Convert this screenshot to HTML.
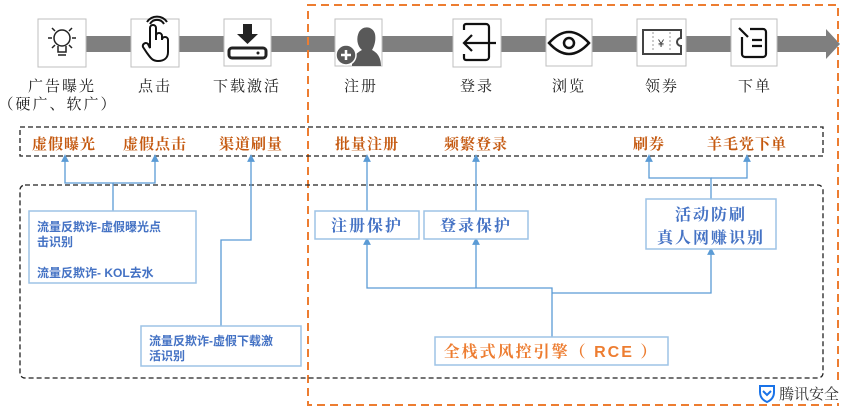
<!DOCTYPE html>
<html><head><meta charset="utf-8"><style>
html,body{margin:0;padding:0;background:#fff;}
svg{display:block;}
text{font-family:"Liberation Sans","Noto Serif CJK SC","Noto Sans CJK SC",serif;}
.lbl{font-size:15px;fill:#222;text-anchor:middle;letter-spacing:2px;}
.or{font-size:15px;fill:#c55a11;font-weight:bold;text-anchor:middle;letter-spacing:1px;}
.bl{font-size:12px;fill:#4472c4;font-weight:bold;font-family:"Liberation Sans","Noto Sans CJK SC",sans-serif;}
.bb{font-size:16px;fill:#4472c4;font-weight:bold;text-anchor:middle;letter-spacing:2px;}
.ln{stroke:#5b9bd5;stroke-width:1.3;fill:none;}
.bx{fill:#fff;stroke:#9dc3e6;stroke-width:1.5;}
.ic{fill:#fff;stroke:#bfbfbf;stroke-width:1;}
</style></head><body>
<svg width="848" height="409" viewBox="0 0 848 409" xmlns="http://www.w3.org/2000/svg">
<defs><marker id="a" markerWidth="6" markerHeight="6" refX="3" refY="3" orient="auto"><path d="M0,0 L6,3 L0,6z" fill="#5b9bd5"/></marker></defs>
<rect x="40" y="36" width="790" height="16" fill="#7f7f7f"/>
<polygon points="826,29 840,44 826,59" fill="#7f7f7f"/>
<rect x="308" y="5" width="530" height="400" fill="none" stroke="#ed7d31" stroke-width="2" stroke-dasharray="8,5"/>
<rect class="ic" x="38" y="19" width="48" height="48"/>
<g stroke="#222" stroke-width="1.5" fill="none"><circle cx="62" cy="38" r="8"/><path d="M58,46 v6 h8 v-6 M58,55 h8 M48,38 h4 M72,38 h4 M52,28 l3,3 M72,28 l-3,3 M52,48 l3,-3 M72,48 l-3,-3"/></g>
<rect class="ic" x="131" y="19" width="48" height="48"/>
<path d="M150,48 v-20 a3,3 0 0 1 6,0 v12 v-4 a3,3 0 0 1 6,0 v4 a3,3 0 0 1 6,0 v12 c0,6 -4,9 -10,9 c-6,0 -8,-4 -11,-8 l-4,-6 a3,3 0 0 1 5,-3 z M150,24 a8,8 0 0 1 14,0 M147,22 a12,12 0 0 1 20,0" stroke="#111" stroke-width="2" fill="none"/>
<rect class="ic" x="224" y="19" width="47" height="47"/>
<path d="M243,24 h9 v10 h6 l-10.5,10 l-10.5,-10 h6z" fill="#222"/>
<rect x="229" y="48" width="37" height="10" rx="3" fill="none" stroke="#222" stroke-width="3"/><circle cx="258" cy="53" r="1.5" fill="#222"/>
<rect class="ic" x="335" y="19" width="47" height="47"/>
<path d="M352,66 c0,-10 6,-14 10,-16 c-5,-4 -6,-12 -3,-18 c4,-7 14,-6 16,2 c1,5 0,11 -3,16 c4,2 9,6 9,16z" fill="#595959"/>
<circle cx="346" cy="55" r="10" fill="#595959" stroke="#fff" stroke-width="1.5"/><path d="M341,55h10M346,50v10" stroke="#fff" stroke-width="2.5"/>
<rect class="ic" x="453" y="19" width="48" height="48"/>
<path d="M464,30 v-4 a2,2 0 0 1 2,-2 h20 a3,3 0 0 1 3,3 v30 a3,3 0 0 1 -3,3 h-20 a2,2 0 0 1 -2,-2 v-4 M496,43 h-32 M472,35 l-8,8 l8,8" stroke="#111" stroke-width="2.2" fill="none"/>
<rect class="ic" x="546" y="19" width="46" height="47"/>
<path d="M549,43 q20,-22 40,0 q-20,22 -40,0z" stroke="#111" stroke-width="2.5" fill="none"/><circle cx="569" cy="43" r="5" stroke="#111" stroke-width="2.5" fill="none"/>
<rect class="ic" x="637" y="19" width="49" height="47"/>
<path d="M643,30 h38 v8 a4,4 0 0 0 0,8 v8 h-38z" stroke="#444" stroke-width="2" fill="none"/><path d="M653,32v20M670,32v20" stroke="#999" stroke-dasharray="2,2"/><text x="661" y="47" font-size="11" text-anchor="middle" fill="#333">¥</text>
<rect class="ic" x="731" y="19" width="46" height="47"/>
<path d="M742,37 v17 a3,3 0 0 0 3,3 h18 a3,3 0 0 0 3,-3 v-22 a3,3 0 0 0 -3,-3 h-13 M739,28 l9,9 M752,40 h10 M752,46 h10" stroke="#111" stroke-width="2.2" fill="none"/>
<text class="lbl" x="62" y="91">广告曝光</text>
<text class="lbl" x="58" y="109">（硬广、软广）</text>
<text class="lbl" x="155" y="91">点击</text>
<text class="lbl" x="247" y="91">下载激活</text>
<text class="lbl" x="361" y="91">注册</text>
<text class="lbl" x="477" y="91">登录</text>
<text class="lbl" x="569" y="91">浏览</text>
<text class="lbl" x="662" y="91">领券</text>
<text class="lbl" x="755" y="91">下单</text>
<rect x="20" y="127" width="803" height="29" fill="none" stroke="#222" stroke-width="1.3" stroke-dasharray="5,3"/>
<text class="or" x="64" y="149">虚假曝光</text>
<text class="or" x="155" y="149">虚假点击</text>
<text class="or" x="251" y="149">渠道刷量</text>
<text class="or" x="367" y="149">批量注册</text>
<text class="or" x="476" y="149">频繁登录</text>
<text class="or" x="649" y="149">刷券</text>
<text class="or" x="747" y="149">羊毛党下单</text>
<rect x="20" y="185" width="803" height="193" rx="5" fill="none" stroke="#222" stroke-width="1.3" stroke-dasharray="5,3"/>
<path class="ln" d="M113,211 V183 H65 V158" marker-end="url(#a)"/>
<path class="ln" d="M113,183 H155 V158" marker-end="url(#a)"/>
<path class="ln" d="M221,326 V240 H251 V158" marker-end="url(#a)"/>
<path class="ln" d="M367,211 V158" marker-end="url(#a)"/>
<path class="ln" d="M476,211 V158" marker-end="url(#a)"/>
<path class="ln" d="M711,199 V178 H649 V158" marker-end="url(#a)"/>
<path class="ln" d="M711,178 H747 V158" marker-end="url(#a)"/>
<path class="ln" d="M552,337 V288 H367 V241" marker-end="url(#a)"/>
<path class="ln" d="M476,288 V241" marker-end="url(#a)"/>
<path class="ln" d="M552,293 H711 V251" marker-end="url(#a)"/>
<rect class="bx" x="29" y="211" width="167" height="72"/>
<text class="bl" x="37" y="231">流量反欺诈-虚假曝光点</text>
<text class="bl" x="37" y="246">击识别</text>
<text class="bl" x="37" y="277">流量反欺诈- KOL去水</text>
<rect class="bx" x="141" y="326" width="160" height="40"/>
<text class="bl" x="149" y="345">流量反欺诈-虚假下载激</text>
<text class="bl" x="149" y="360">活识别</text>
<rect class="bx" x="315" y="211" width="104" height="28"/>
<text class="bb" x="367" y="231">注册保护</text>
<rect class="bx" x="424" y="211" width="104" height="28"/>
<text class="bb" x="476" y="231">登录保护</text>
<rect class="bx" x="646" y="199" width="130" height="50"/>
<text class="bb" x="711" y="220">活动防刷</text>
<text class="bb" x="711" y="243">真人网赚识别</text>
<rect class="bx" x="435" y="337" width="233" height="28"/>
<text x="551" y="357" font-size="16" font-weight="bold" fill="#ed7d31" text-anchor="middle" letter-spacing="2">全栈式风控引擎（ RCE ）</text>
<rect x="756" y="383" width="86" height="20" fill="#fff"/>
<path d="M760,386 h14 v6 q0,7 -7,10 q-7,-3 -7,-10z" fill="none" stroke="#1a73e8" stroke-width="2"/><path d="M763,391 l4,4 l4,-4" fill="none" stroke="#1a73e8" stroke-width="2"/>
<text x="779" y="399" font-size="15" fill="#333" font-family="Liberation Sans,Noto Sans CJK SC,sans-serif">腾讯安全</text>
</svg>
</body></html>
